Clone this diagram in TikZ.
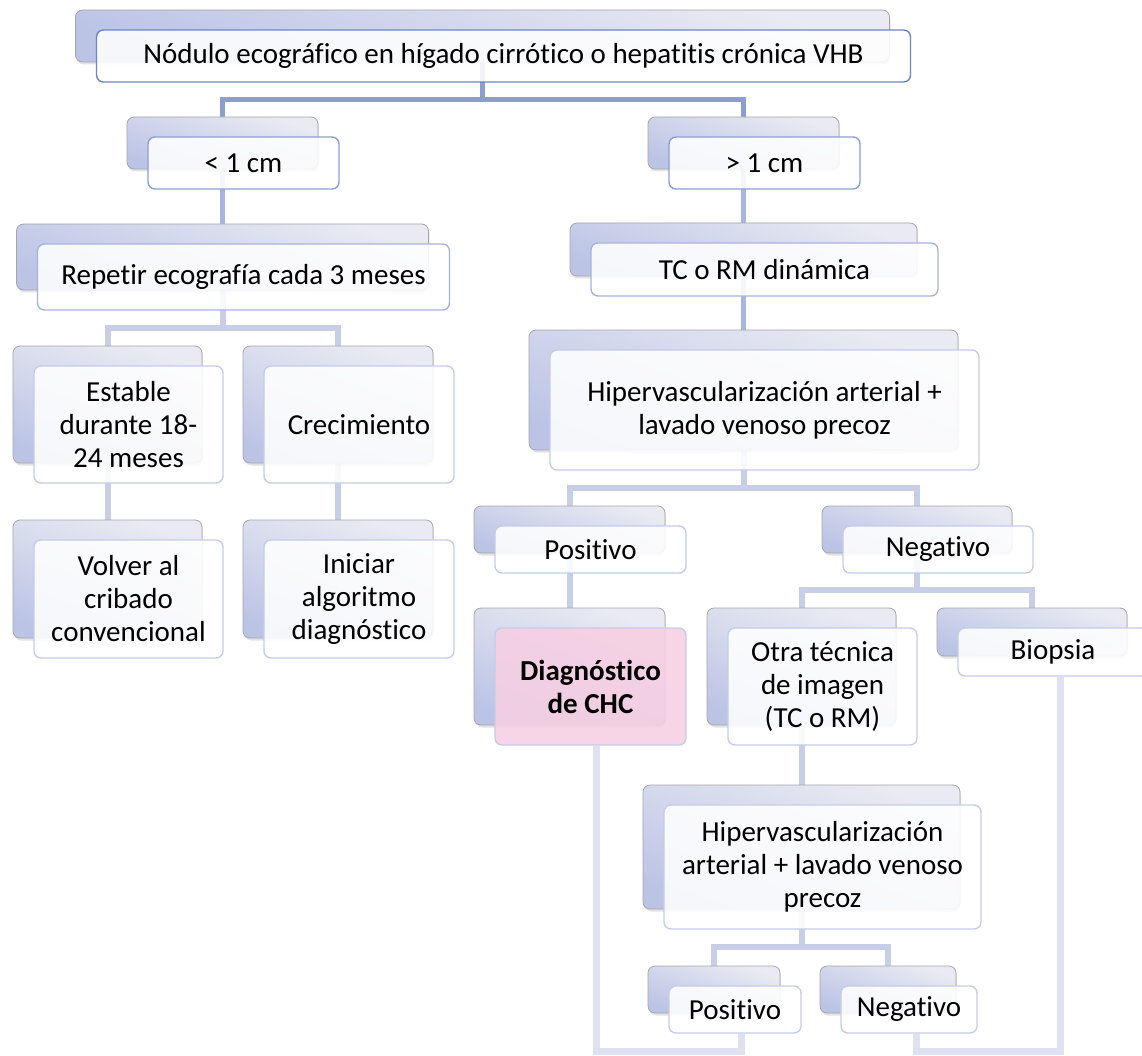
\documentclass[tikz,border=0pt]{standalone}
\usepackage{fontspec}
\setmainfont{Carlito}[Ligatures=NoCommon]
\usetikzlibrary{shadows,backgrounds}

\definecolor{backtop}{RGB}{234,235,242}
\definecolor{backbot}{RGB}{188,196,230}
\definecolor{backline}{RGB}{165,165,170}
\definecolor{rimA}{RGB}{110,132,196}
\definecolor{rimB}{RGB}{140,158,214}
\definecolor{rimC}{RGB}{166,179,223}
\definecolor{rimD}{RGB}{196,204,232}
\definecolor{linkA}{RGB}{140,157,209}
\definecolor{linkB}{RGB}{168,181,224}
\definecolor{linkC}{RGB}{200,206,232}
\definecolor{linkD}{RGB}{221,225,241}
\definecolor{pinkfill}{RGB}{247,207,226}

\begin{document}
\begin{tikzpicture}[x=1pt, y=-1pt, align=center,
    back/.style={draw=backline, line width=0.8pt, rounded corners=7pt,
        top color=backtop, bottom color=backbot, shading angle=-20, inner sep=0pt,
        drop shadow={opacity=0.22, shadow xshift=1pt, shadow yshift=-2.5pt}},
    front/.style={draw=rimD, line width=1.4pt, rounded corners=7pt,
        fill=white, fill opacity=0.88, text opacity=1, inner sep=0pt,
        font=\fontsize{29}{33}\selectfont},
    hit/.style={front, fill=pinkfill, font=\fontsize{29}{33}\selectfont\bfseries},
    link1/.style={draw=linkA, line width=5pt},
    link2/.style={draw=linkB, line width=5pt},
    link3/.style={draw=linkC, line width=6pt},
    link4/.style={draw=linkD, line width=7pt}]
    \useasboundingbox (0,0) rectangle (1142,1056);
    \clip (0,0) rectangle (1142,1056);

    % level 1
    \node[back, minimum width=814pt, minimum height=52pt] (b-top) at (482.5,36) {};
    \node[front, draw=rimA, minimum width=814pt, minimum height=52pt] (f-top) at ([shift={(21,20)}]b-top.center)
        {Nódulo ecográfico en hígado cirrótico o hepatitis crónica VHB};

    % level 2
    \node[back, minimum width=191pt, minimum height=52pt] (b-lt) at (222.5,143) {};
    \node[front, draw=rimB, minimum width=191pt, minimum height=52pt] (f-lt) at ([shift={(21,20)}]b-lt.center) {< 1 cm};
    \node[back, minimum width=191pt, minimum height=52pt] (b-gt) at (743.5,143) {};
    \node[front, draw=rimB, minimum width=191pt, minimum height=52pt] (f-gt) at ([shift={(21,20)}]b-gt.center) {> 1 cm};

    % level 3
    \node[back, minimum width=412pt, minimum height=66pt] (b-rep) at (222.5,257) {};
    \node[front, draw=rimC, minimum width=412pt, minimum height=66pt] (f-rep) at ([shift={(21,20)}]b-rep.center)
        {Repetir ecografía cada 3 meses};
    \node[back, minimum width=347pt, minimum height=53pt] (b-tc) at (743.5,249.5) {};
    \node[front, draw=rimC, minimum width=347pt, minimum height=53pt] (f-tc) at ([shift={(21,20)}]b-tc.center)
        {TC o RM dinámica};

    % left branch
    \node[back, minimum width=189pt, minimum height=117pt] (b-est) at (107.5,404.5) {};
    \node[front, minimum width=189pt, minimum height=117pt] (f-est) at ([shift={(21,20)}]b-est.center)
        {Estable\\durante 18-\\24 meses};
    \node[back, minimum width=190pt, minimum height=117pt] (b-cre) at (338,404.5) {};
    \node[front, minimum width=190pt, minimum height=117pt] (f-cre) at ([shift={(21,20)}]b-cre.center)
        {Crecimiento};
    \node[back, minimum width=189pt, minimum height=118pt] (b-vol) at (107.5,579) {};
    \node[front, minimum width=189pt, minimum height=118pt] (f-vol) at ([shift={(21,20)}]b-vol.center)
        {Volver al\\cribado\\convencional};
    \node[back, minimum width=190pt, minimum height=118pt] (b-ini) at (338,579) {};
    \node[front, minimum width=190pt, minimum height=118pt] (f-ini) at ([shift={(21,20)}]b-ini.center)
        {Iniciar\\algoritmo\\diagnóstico};

    % right branch
    \node[back, minimum width=429pt, minimum height=120pt] (b-hip1) at (743.5,390) {};
    \node[front, minimum width=429pt, minimum height=120pt] (f-hip1) at ([shift={(21,20)}]b-hip1.center)
        {Hipervascularización arterial +\\lavado venoso precoz};
    \node[back, minimum width=191pt, minimum height=47pt] (b-pos1) at (569.5,529.5) {};
    \node[front, minimum width=191pt, minimum height=47pt] (f-pos1) at ([shift={(21,20)}]b-pos1.center) {Positivo};
    \node[back, minimum width=190pt, minimum height=47pt] (b-neg1) at (917,529.5) {};
    \node[front, minimum width=190pt, minimum height=47pt] (f-neg1) at ([shift={(21,20)}]b-neg1.center) {Negativo};
    \node[back, minimum width=191pt, minimum height=117pt] (b-diag) at (569.5,666.5) {};
    \node[hit, minimum width=191pt, minimum height=117pt] (f-diag) at ([shift={(21,20)}]b-diag.center)
        {Diagnóstico\\de CHC};
    \node[back, minimum width=189pt, minimum height=117pt] (b-otra) at (801.5,666.5) {};
    \node[front, minimum width=189pt, minimum height=117pt] (f-otra) at ([shift={(21,20)}]b-otra.center)
        {Otra técnica\\de imagen\\(TC o RM)};
    \node[back, minimum width=190pt, minimum height=48pt] (b-bio) at (1032,632) {};
    \node[front, minimum width=190pt, minimum height=48pt] (f-bio) at ([shift={(21,20)}]b-bio.center) {Biopsia};
    \node[back, minimum width=317pt, minimum height=124pt] (b-hip2) at (801.5,847) {};
    \node[front, minimum width=317pt, minimum height=124pt] (f-hip2) at ([shift={(21,20)}]b-hip2.center)
        {Hipervascularización\\arterial + lavado venoso\\precoz};
    \node[back, minimum width=132pt, minimum height=47pt] (b-pos2) at (714,989.5) {};
    \node[front, minimum width=132pt, minimum height=47pt] (f-pos2) at ([shift={(21,20)}]b-pos2.center) {Positivo};
    \node[back, minimum width=136pt, minimum height=47pt] (b-neg2) at (888,989.5) {};
    \node[front, minimum width=136pt, minimum height=47pt] (f-neg2) at ([shift={(21,20)}]b-neg2.center) {Negativo};

    \begin{scope}[on background layer]
    % connectors
    \draw[link1] (b-top.south) -- ++(0,37) -| (b-lt.north);
    \draw[link1] (b-top.south) -- ++(0,37) -| (b-gt.north);
    \draw[link2] (b-lt.south) -- (b-rep.north);
    \draw[link2] (b-gt.south) -- (b-tc.north);
    \draw[link3] (b-rep.south) -- ++(0,38) -| (b-est.north);
    \draw[link3] (b-rep.south) -- ++(0,38) -| (b-cre.north);
    \draw[link3] (b-est.south) -- (b-vol.north);
    \draw[link3] (b-cre.south) -- (b-ini.north);
    \draw[link2] (b-tc.south) -- (b-hip1.north);
    \draw[link3] (b-hip1.south) -- ++(0,38) -| (b-pos1.north);
    \draw[link3] (b-hip1.south) -- ++(0,38) -| (b-neg1.north);
    \draw[link3] (b-pos1.south) -- (b-diag.north);
    \draw[link3] (b-neg1.south) -- ++(0,37) -| (b-otra.north);
    \draw[link3] (b-neg1.south) -- ++(0,37) -| (b-bio.north);
    \draw[link3] (b-otra.south) -- (b-hip2.north);
    \draw[link3] (b-hip2.south) -- ++(0,38) -| (b-pos2.north);
    \draw[link3] (b-hip2.south) -- ++(0,38) -| (b-neg2.north);
    \draw[link4] ([xshift=6pt]f-diag.south) -- ++(0,306) -| ([xshift=6pt]f-pos2.south);
    \draw[link4] ([xshift=7pt]f-neg2.south) -- ++(0,18) -| ([xshift=7pt]f-bio.south);
    \end{scope}
\end{tikzpicture}
\end{document}
